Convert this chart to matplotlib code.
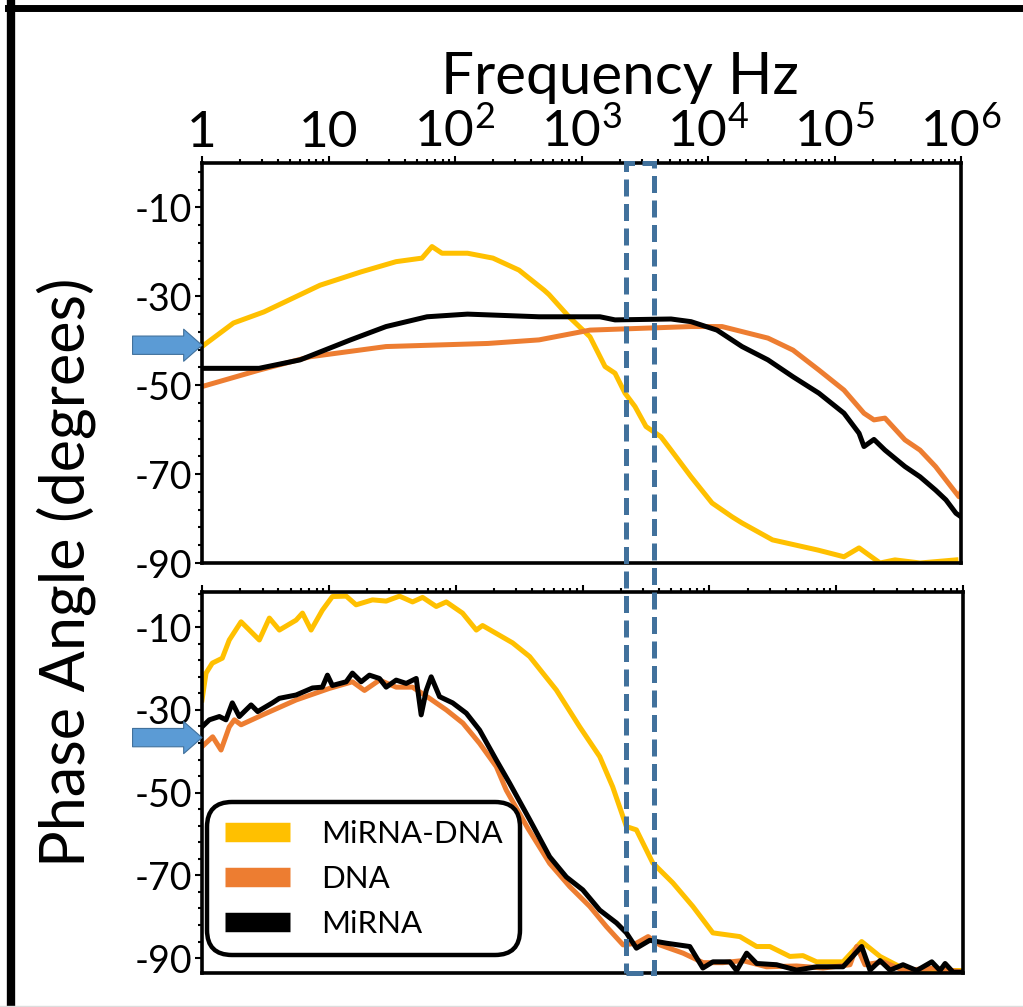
import numpy as np
import matplotlib.pyplot as plt
from matplotlib.lines import Line2D
from matplotlib.patches import Rectangle
from matplotlib.transforms import blended_transform_factory
from matplotlib.ticker import FixedLocator, LogLocator, NullFormatter

plt.rcParams['font.family'] = ['Lato', 'DejaVu Sans']
plt.rcParams['mathtext.fontset'] = 'custom'
plt.rcParams['mathtext.rm'] = 'Lato'
plt.rcParams['mathtext.it'] = 'Lato:italic'
plt.rcParams['mathtext.bf'] = 'Lato:bold'
plt.rcParams['axes.unicode_minus'] = False

# ---- data (x as log10 of frequency in Hz, y in degrees) ----
top_yellow_logf = [0.00, 0.249, 0.490, 0.933, 1.257, 1.534, 1.739, 1.818, 1.897, 2.099, 2.300,
                   2.506, 2.704, 2.743, 2.901, 3.067, 3.186, 3.265, 3.344, 3.423, 3.510, 3.628,
                   3.708, 3.866, 4.032, 4.190, 4.269, 4.510, 4.870, 5.075, 5.194, 5.360, 5.478,
                   5.676, 5.960]
top_yellow_deg = [-41.3, -36.0, -33.5, -27.5, -24.5, -22.2, -21.4, -18.8, -20.3, -20.3, -21.4,
                  -24.1, -28.6, -29.6, -34.6, -39.1, -45.8, -47.3, -51.8, -54.8, -59.3, -61.6,
                  -64.6, -70.6, -76.5, -79.6, -81.0, -84.8, -87.1, -88.6, -86.6, -90.0, -89.3,
                  -90.0, -89.3]

top_black_logf = [0.0, 0.451, 0.775, 1.174, 1.455, 1.779, 2.099, 2.664, 3.146, 3.265, 3.708,
                  3.866, 4.071, 4.269, 4.474, 4.672, 4.877, 5.075, 5.194, 5.233, 5.312, 5.399,
                  5.557, 5.676, 5.799, 5.881, 5.960, 6.0]
top_black_deg = [-46.2, -46.2, -44.3, -39.8, -36.8, -34.6, -34.0, -34.6, -34.6, -35.3, -35.1,
                 -35.7, -37.6, -41.3, -44.3, -48.1, -51.8, -56.3, -60.8, -63.8, -62.2, -64.6,
                 -68.3, -70.6, -73.6, -75.8, -78.8, -79.6]

top_orange_logf = [0.0, 0.451, 0.854, 1.455, 2.261, 2.664, 3.067, 3.466, 3.866, 4.111, 4.474,
                   4.672, 4.877, 5.075, 5.233, 5.312, 5.399, 5.557, 5.676, 5.799, 5.921, 5.984, 6.0]
top_orange_deg = [-50.3, -46.6, -43.6, -41.3, -40.6, -39.8, -37.6, -37.2, -36.8, -36.8, -39.4,
                  -42.1, -46.6, -51.1, -56.3, -57.8, -57.4, -62.3, -64.6, -68.3, -72.8, -75.1, -74.0]

bot_yellow_logf = [0.0, 0.032, 0.081, 0.160, 0.215, 0.308, 0.452, 0.531, 0.610, 0.742, 0.792,
                   0.860, 0.949, 1.028, 1.137, 1.215, 1.344, 1.452, 1.557, 1.660, 1.739, 1.847,
                   1.926, 2.054, 2.163, 2.212, 2.449, 2.583, 2.794, 2.978, 3.136, 3.238, 3.346,
                   3.425, 3.554, 3.712, 3.870, 4.028, 4.241, 4.373, 4.477, 4.635, 4.738, 4.846,
                   5.054, 5.201, 5.346, 5.503, 5.635, 6.0]
bot_yellow_deg = [-27.6, -21.1, -18.7, -17.5, -13.1, -8.7, -13.1, -7.8, -10.7, -8.3, -6.6,
                  -10.7, -5.9, -2.6, -2.5, -4.6, -3.4, -3.7, -2.5, -3.9, -2.8, -5.0,
                  -3.9, -6.6, -10.7, -9.6, -13.8, -17.1, -25.2, -34.1, -41.3, -48.6, -58.2,
                  -59.0, -67.0, -71.8, -77.5, -83.9, -84.8, -87.2, -87.2, -89.6, -89.4, -90.9,
                  -90.9, -86.0, -89.6, -92.1, -93.0, -93.0]

bot_black_logf = [0.0, 0.058, 0.137, 0.189, 0.239, 0.294, 0.387, 0.439, 0.555, 0.610, 0.742,
                  0.871, 0.949, 0.989, 1.028, 1.137, 1.186, 1.255, 1.320, 1.399, 1.452, 1.531,
                  1.610, 1.689, 1.728, 1.768, 1.807, 1.873, 1.976, 2.084, 2.189, 2.320, 2.425,
                  2.583, 2.741, 2.873, 3.002, 3.136, 3.268, 3.346, 3.425, 3.530, 3.662, 3.846,
                  3.949, 4.028, 4.162, 4.215, 4.294, 4.373, 4.530, 4.688, 4.846, 5.054, 5.201,
                  5.267, 5.346, 5.425, 5.527, 5.635, 5.754, 5.819, 5.859, 5.922, 6.0]
bot_black_deg = [-34.1, -32.4, -31.6, -32.4, -28.3, -31.6, -28.8, -30.4, -28.3, -27.2, -26.4,
                 -24.7, -24.5, -21.6, -24.1, -23.2, -21.1, -23.2, -21.6, -22.4, -24.5, -22.8,
                 -23.6, -22.4, -31.2, -25.3, -22.0, -26.8, -28.3, -30.8, -34.9, -42.1, -47.7,
                 -56.5, -65.5, -70.4, -73.5, -78.4, -81.5, -83.9, -87.6, -85.7, -86.4, -87.2,
                 -92.4, -90.9, -90.9, -93.0, -88.8, -91.3, -91.6, -92.9, -92.1, -92.1, -87.2,
                 -92.9, -90.6, -92.9, -91.6, -93.0, -90.9, -93.0, -91.3, -93.4, -93.4]

bot_orange_logf = [0.0, 0.084, 0.150, 0.215, 0.255, 0.308, 0.478, 0.742, 1.005, 1.186, 1.281,
                   1.399, 1.531, 1.660, 1.794, 1.926, 2.057, 2.189, 2.320, 2.399, 2.567, 2.741,
                   2.899, 3.057, 3.189, 3.320, 3.425, 3.517, 3.609, 3.793, 3.951, 4.107, 4.264,
                   4.451, 4.688, 4.896, 5.109, 5.162, 5.227, 5.372, 5.530, 5.766, 6.0]
bot_orange_deg = [-38.9, -36.5, -39.7, -34.1, -32.4, -33.6, -31.2, -27.6, -24.8, -23.2, -25.3,
                  -22.8, -24.5, -24.5, -27.2, -30.0, -33.2, -38.1, -43.7, -49.4, -58.5, -67.1,
                  -72.7, -77.5, -82.4, -86.8, -86.4, -84.8, -86.8, -88.8, -91.1, -91.1, -90.6,
                  -92.1, -91.9, -92.4, -91.6, -87.2, -91.6, -90.9, -93.0, -92.4, -93.4]

series_names = ['MiRNA-DNA', 'DNA', 'MiRNA']
series_colors = ['#FFC000', '#ED7D31', '#000000']
x_tick_labels = ['1', '10', '$10^{2}$', '$10^{3}$', '$10^{4}$', '$10^{5}$', '$10^{6}$']
y_tick_values = [-10, -30, -50, -70, -90]
box_freq = [2250, 3750]      # dashed window (Hz)
arrow_deg = [-41.0, -36.7]   # arrow marks (top, bottom)

W, H = 1023, 1007
fig = plt.figure(figsize=(W / 100, H / 100), dpi=100)
ax1 = fig.add_axes([202 / W, 1 - 563 / H, 759 / W, 400 / H])
ax2 = fig.add_axes([202 / W, 1 - 973 / H, 761 / W, 381 / H])

panels = [
    (ax1, [top_yellow_logf, top_orange_logf, top_black_logf],
     [top_yellow_deg, top_orange_deg, top_black_deg], (-90, 0)),
    (ax2, [bot_yellow_logf, bot_orange_logf, bot_black_logf],
     [bot_yellow_deg, bot_orange_deg, bot_black_deg], (-93.6, -1.5)),
]

for ax, xs, ys, ylim in panels:
    for lx, yv, c in zip(xs, ys, series_colors):
        ax.plot(10 ** np.array(lx), yv, color=c, lw=3.6, solid_joinstyle='round')
    ax.set_xscale('log')
    ax.set_xlim(1, 1e6)
    ax.set_ylim(*ylim)
    for s in ax.spines.values():
        s.set_linewidth(2.6)
    ax.xaxis.set_ticks_position('top')
    ax.set_xticks(10.0 ** np.arange(7))
    ax.xaxis.set_minor_locator(LogLocator(base=10, subs=np.arange(2, 10)))
    ax.xaxis.set_minor_formatter(NullFormatter())
    ax.tick_params(axis='x', which='both', top=True, bottom=False, direction='out', width=1.5)
    ax.tick_params(axis='x', which='major', length=5, pad=0)
    ax.tick_params(axis='x', which='minor', length=3)
    ax.set_yticks(y_tick_values)
    ax.yaxis.set_minor_locator(FixedLocator(np.arange(-94, 1, 4)))
    ax.tick_params(axis='y', which='both', direction='out', width=1.5, labelsize=27, pad=2)
    ax.tick_params(axis='y', which='major', length=5)
    ax.tick_params(axis='y', which='minor', length=3)

ax1.set_xticklabels(x_tick_labels, fontsize=37)
ax2.tick_params(axis='x', labeltop=False)

# arrows on the left of each panel
for ax, yv in zip([ax1, ax2], arrow_deg):
    ax.annotate('', xy=(0, yv), xycoords=('axes fraction', 'data'),
                xytext=(-50, 0), textcoords='offset points', annotation_clip=False,
                arrowprops=dict(arrowstyle='simple,head_length=0.6,head_width=1.05,tail_width=0.6',
                                mutation_scale=22, fc='#5B9BD5', ec='#41719C', lw=0.8,
                                shrinkA=0, shrinkB=0))

# dashed window across both panels
tr = blended_transform_factory(ax1.transData, fig.transFigure)
y_lo = ax2.get_position().y0
y_hi = ax1.get_position().y1
win = Rectangle((box_freq[0], y_lo), box_freq[1] - box_freq[0], y_hi - y_lo, transform=tr,
                fill=False, ec='#41719C', lw=3.6, ls=(0, (3.4, 1.5)), zorder=5)
fig.add_artist(win)

handles = [Line2D([], [], color=c, lw=14, solid_capstyle='butt') for c in series_colors]
leg = ax2.legend(handles, series_names, loc='lower left', bbox_to_anchor=(0.007, 0.047),
                 borderaxespad=0, fontsize=22.5, handlelength=2.1, handletextpad=1.0,
                 labelspacing=0.55, borderpad=0.55, frameon=True, fancybox=True)
frame = leg.get_frame()
frame.set_edgecolor('black')
frame.set_linewidth(3.2)
frame.set_alpha(1)
frame.set_boxstyle('round,pad=0,rounding_size=0.8')

fig.text(620 / W, 1 - 78 / H, 'Frequency Hz', fontsize=42, ha='center', va='center')
fig.text(66 / W, 1 - 572 / H, 'Phase Angle (degrees)', fontsize=44, ha='center',
         va='center', rotation=90)

# outer frame lines
fig.add_artist(Line2D([11 / W, 11 / W], [0, 1 - 4 / H], color='black', lw=6))
fig.add_artist(Line2D([8 / W, 1], [1 - 7.5 / H, 1 - 7.5 / H], color='black', lw=5))
fig.add_artist(Line2D([0, 1], [1.5 / H, 1.5 / H], color='#DDDDDD', lw=1))

fig.savefig('out.png', dpi=100)
